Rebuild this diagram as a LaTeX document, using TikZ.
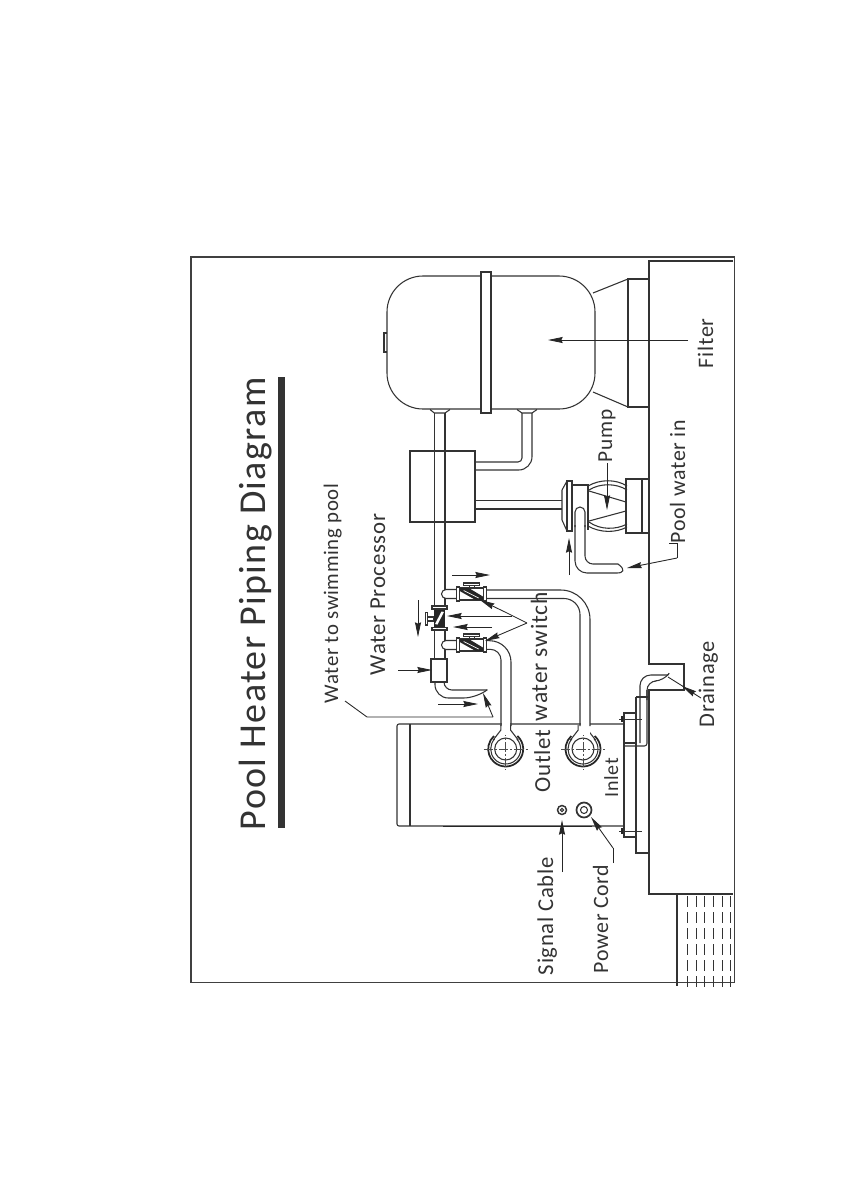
\documentclass[tikz,border=0pt]{standalone}
\usepackage{fontspec}
\setmainfont{Carlito}
\newfontfamily\titlefont[LetterSpace=3.6]{Carlito}
\newfontfamily\lblfont[LetterSpace=3]{Carlito}
\usetikzlibrary{arrows.meta}
\tikzset{
 ln/.style={line width=0.8pt,draw=black!80},
 thin ln/.style={line width=0.55pt,draw=black!80},
 arr/.style={line width=0.65pt,draw=black!85,-{Stealth[length=11pt,width=4.5pt,inset=1pt]}},
 lead/.style={line width=0.65pt,draw=black!85},
 lbl/.style={rotate=90,anchor=base west,inner sep=0pt,outer sep=0pt,text=black!80},
 ctr/.style={line width=0.45pt,draw=black!70,dash pattern=on 7pt off 1.5pt on 1.5pt off 1.5pt},
}
\newcommand{\fsz}[1]{\lblfont\fontsize{#1}{#1}\selectfont}
% horizontal valve at (#1,#2)
\newcommand{\hvalve}[2]{%
 \begin{scope}[shift={(#1,#2)}]
  \fill[white] (-15,-8) rectangle (15,7);
  \draw[ln,fill=white] (-8,-11) rectangle (8,-8.5);
  \draw[ln,fill=white] (-2.5,-8.5) rectangle (2.5,-6);
  \draw[ln] (-12,-6) -- (12,-6) (-12,6) -- (12,6);
  \fill[black!85] (-12,-6) -- (-3,-6) -- (12,3) -- (12,6) -- (4,6) -- (-12,-3) -- cycle;
  \draw[white,line width=0.5pt] (-8,-3.5) -- (7,4);
  \draw[ln,fill=white] (-15,-7) rectangle (-12,7);
  \draw[ln,fill=white] (12,-7) rectangle (15,7);
 \end{scope}}
% vertical valve at (#1,#2)
\newcommand{\vvalve}[2]{%
 \begin{scope}[shift={(#1,#2)}]
  \fill[white] (-8,-13) rectangle (7.5,11);
  \draw[ln,fill=white] (-14.3,-6.3) rectangle (-12,6);
  \draw[ln,fill=white] (-12,-2) rectangle (-5.5,2);
  \fill[black!85] (-5.5,-10) rectangle (5.5,8.5);
  \fill[white] (-4.5,5) -- (-2,5.5) -- (4.5,-7) -- (2,-7.5) -- cycle;
  \draw[ln,fill=white] (-7.5,-13) rectangle (7.5,-10);
  \draw[ln,fill=white] (-7.5,8.5) rectangle (7.5,11);
 \end{scope}}
% port on the heater
\newcommand{\port}[2]{%
 \begin{scope}[shift={(#1,#2)}]
  \draw[line width=1.3pt,draw=black!85] (-48:17.5) arc[start angle=-48,end angle=228,radius=17.5];
  \draw[ln] (-42:15) arc[start angle=-42,end angle=222,radius=15];
  \draw[ln] (0,0) circle[radius=11];
  \draw[ctr] (-22,0) -- (22,0) (0,-22) -- (0,21);
  \draw[ln] (-4.8,-24) -- (-4.8,-19) -- (-12.5,-9);
  \draw[ln] (4.8,-24) -- (4.8,-19) -- (12.5,-9);
 \end{scope}}
\begin{document}
\begin{tikzpicture}[x=0.75pt,y=-0.75pt]
\useasboundingbox (0,0) rectangle (840,1190);
\fill[white] (0,0) rectangle (840,1190);
% frame
\draw[line width=1.3pt,draw=black!75] (191,257) rectangle (734.5,982.5);
% slab
\draw[ln] (733,261) -- (649,261) -- (649,664) -- (684,664) -- (684,690) -- (649,690) -- (649,894) -- (733,894);
% water
\draw[ln] (677,894) -- (677,986);
\foreach \xx in {687,696,704,713,722,730} \draw[thin ln,dash pattern=on 8pt off 4pt] (\xx,896) -- (\xx,987);
% title
\node[lbl] (title) at (265,830) {\titlefont\fontsize{28.5}{30}\selectfont Pool Heater Piping Diagram};
\fill[black!80] (278,377) rectangle (284.5,828);
% filter
\draw[ln] (593,293) -- (628,279) (593,392) -- (628,407);
\draw[ln] (628,279) rectangle (649,407);
\draw[ln,fill=white] (384,333) rectangle (388,352);
\draw[ln,fill=white,rounded corners=27] (387,276) rectangle (595,409);
\draw[ln,fill=white] (481,272) rectangle (491,413);
% filter necks
\draw[ln] (430,409.5) -- (434.3,413) -- (445,413) -- (450,409.5);
\draw[ln] (517,409.5) -- (522,413) -- (532,413) -- (537,409.5);
% main vertical pipe
\draw[ln] (434.3,413) -- (434.3,659) (445,413) -- (445,659);
% pipes filter to box
\draw[ln,rounded corners=10] (475,470) -- (532,470) -- (532,413);
\draw[ln,rounded corners=3] (475,462) -- (522,462) -- (522,413);
% box
\draw[ln] (410,451) rectangle (475,522);
% box to pump
\draw[ln] (475,500.7) -- (562,500.7) (475,509) -- (562,509);
% pump
\draw[ln] (562,490) -- (567,481) (562,520) -- (567,531) (562,490) -- (562,520);
\draw[ln,fill=white] (567,481) rectangle (572,531);
\draw[ln] (572,485) -- (588,485) -- (588,530);
\draw[ln] (588,486) .. controls (600,479) and (616,479) .. (627,486);
\draw[ln] (589,490) .. controls (600,483) and (616,483) .. (627,490);
\draw[ln] (588,526) .. controls (600,533) and (616,533) .. (627,527);
\draw[ln] (589,522) .. controls (600,530) and (616,530) .. (627,524);
\draw[ln] (589,491) -- (626,502) (589,521) -- (626,511);
\draw[ln] (626,479) rectangle (649,533);
\draw[ln] (642,479) -- (642,533);
% pump inlet pipe
\draw[ln,fill=white] (575,527) -- (575,512) arc[start angle=180,end angle=360,radius=5] -- (585,527);
\draw[ln,rounded corners=9] (575,525) -- (575,573) -- (629,573) -- (618,564);
\draw[ln,rounded corners=6] (585,525) -- (585,564) -- (618,564);
% heater
\draw[ln,rounded corners=1.5] (624,724) -- (397,724) -- (397,826) -- (624,826);
\draw[ln] (410,724) -- (410,826);
\draw[line width=1.2pt,draw=black!85] (443,826.5) -- (592,826.5);
\draw[ln] (636,697) -- (649,697) (636,697) -- (636,853) -- (649,853);
\draw[ln] (624,713) rectangle (636,837);
\draw[thin ln] (619,719) -- (642,719) (619,831) -- (642,831);
\draw[line width=1.1pt,draw=black!85] (622,716) -- (622,722) (622,828) -- (622,834);
% drain pipe
\draw[ln] (625,743) -- (637,743);
\draw[ln,rounded corners=2] (625,746) -- (647,746) -- (647,690);
\draw[ln,rounded corners=8] (640,743) -- (640,675) -- (668,675);
\draw[ln,rounded corners=7] (647,700) -- (647,681) -- (664,681) -- (668,675);
% ports
\port{505.7}{749}
\port{583}{749}
\fill[white] (501.5,723) rectangle (510,735);
\fill[white] (580.5,723) rectangle (589.5,735);
% piping to valves
\draw[ln,rounded corners=22] (487,590) -- (590,590) -- (590,726);
\draw[ln,rounded corners=12] (487,598.5) -- (580,598.5) -- (580,726);
\draw[ln,rounded corners=16] (487,640.7) -- (511,640.7) -- (511,726);
\draw[ln,rounded corners=8] (487,649.3) -- (501,649.3) -- (501,726);
% elbow ends at main pipe
\draw[ln,fill=white] (457,589.5) -- (446,589.5) arc[start angle=-90,end angle=-270,radius=4.5] -- (457,598.5);
\draw[ln,fill=white] (457,640.5) -- (446,640.5) arc[start angle=-90,end angle=-270,radius=4.5] -- (457,649.5);
% valves
\hvalve{471.7}{594}
\hvalve{471.7}{645}
\vvalve{439.5}{619}
% block and outlet
\draw[ln,fill=white] (431,659) rectangle (447,682);
\draw[ln,rounded corners=10] (435,682) -- (435,698) -- (477,698) -- (487,690);
\draw[ln,rounded corners=6] (444,682) -- (444,690) -- (487,690);
% socket circles
\draw[line width=1.1pt,draw=black!80] (562,810) circle[radius=4.5];
\draw[ln] (562,810) circle[radius=1.7];
\draw[line width=1.3pt,draw=black!80] (584,810) circle[radius=7.5];
\draw[ln] (584,810) circle[radius=3.5];
% arrows
\draw[arr] (688,340) -- (548,340);
\draw[arr] (607,463) -- (607,510);
\draw[arr] (569,575) -- (569,538);
\draw[arr] (452,575) -- (490,575);
\draw[arr] (418,600) -- (418,637);
\draw[arr] (492,627) -- (453,627);
\draw[lead] (527,623) -- (505,612);
\draw[arr] (505,612) -- (480,600);
\draw[arr] (512,616) -- (447,616);
\draw[arr] (527,623) -- (485,641);
\draw[arr] (398,670) -- (432,670);
\draw[arr] (438,704) -- (478,704);
\draw[lead] (345,701) -- (367,717) -- (493,717);
\draw[arr] (493,717) -- (483,693);
\draw[lead] (677,543) -- (677,558);
\draw[lead] (669,543) -- (677,543);
\draw[arr] (677,558) -- (627,568);
\draw[arr] (562,872) -- (562,820);
\draw[lead] (613,863) -- (613,848);
\draw[arr] (613,848) -- (591,817);
\draw[arr] (701,698) -- (682,686);
\draw[lead] (684,687) -- (668,677);
% labels
\node[lbl] (swim) at (338,703) {\fsz{15.6}Water to swimming pool};
\node[lbl] (proc) at (385,675) {\fsz{17.1}Water Processor};
\node[lbl] (filt) at (713,368) {\fsz{16.6}Filter};
\node[lbl] (pump) at (612,462) {\fsz{16}Pump};
\node[lbl] (poolin) at (685,543) {\fsz{16.4}Pool water in};
\node[lbl] (wswitch) at (547,721) {\fsz{17.6}water switch};
\node[lbl] (outlet) at (550,792) {\fsz{17.2}Outlet};
\node[lbl] (inlet) at (618,797) {\fsz{15}Inlet};
\node[lbl] (signal) at (553,975) {\fsz{17}Signal Cable};
\node[lbl] (power) at (608,973) {\fsz{16.4}Power Cord};
\node[lbl] (drain) at (714,727) {\fsz{16.8}Drainage};
\end{tikzpicture}
\end{document}
